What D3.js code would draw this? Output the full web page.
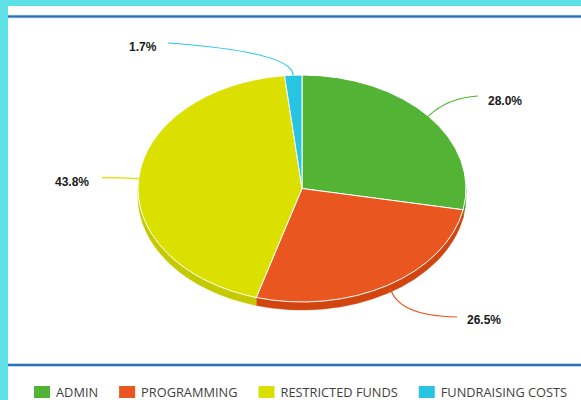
<!DOCTYPE html>
<html>
<head>
<meta charset="utf-8">
<script src="https://cdn.jsdelivr.net/npm/d3@7"></script>
<style>
  html, body { margin: 0; padding: 0; background: #5ee1e6; }
  svg { display: block; }
</style>
</head>
<body>
<svg id="chart" width="581" height="400"></svg>
<script>
// ---- data ----
const categories = ["ADMIN", "PROGRAMMING", "RESTRICTED FUNDS", "FUNDRAISING COSTS"];
const values = [28.0, 26.5, 43.8, 1.7];
const valueLabels = ["28.0%", "26.5%", "43.8%", "1.7%"];
const colors = ["#52b335", "#ea561f", "#dbe000", "#27c5e2"];
const sideColors = ["#449a2a", "#d24410", "#c5c900", "#1fa9c2"];

// ---- layout ----
const W = 581, H = 400;
const cx = 302, cy = 188.5, rx = 164, ry = 113.5, depth = 8;
const svg = d3.select("#chart");

// panel
svg.append("rect").attr("x", 8).attr("y", 6).attr("width", W - 8).attr("height", H - 6).attr("fill", "#ffffff");
[16.5, 365].forEach(y => {
  svg.append("line").attr("x1", 8).attr("x2", W).attr("y1", y).attr("y2", y)
    .attr("stroke", "#a9cbe8").attr("stroke-width", 3.5);
  svg.append("line").attr("x1", 8).attr("x2", W).attr("y1", y).attr("y2", y)
    .attr("stroke", "#2f70b3").attr("stroke-width", 1.8);
});

const data = categories.map((c, i) => ({ name: c, value: values[i], label: valueLabels[i], color: colors[i], side: sideColors[i] }));
const pie = d3.pie().value(d => d.value).sort(null).startAngle(0).endAngle(2 * Math.PI);
const arcs = pie(data);

const pt = (a, dy = 0, k = 1) => [cx + rx * k * Math.sin(a), cy - ry * k * Math.cos(a) + dy];

// side walls (front half: angles PI/2 .. 3PI/2)
const walls = svg.append("g");
arcs.forEach(d => {
  const a0 = Math.max(d.startAngle, Math.PI / 2);
  const a1 = Math.min(d.endAngle, 3 * Math.PI / 2);
  if (a1 <= a0) return;
  const p0 = pt(a0), p1 = pt(a1), q1 = pt(a1, depth), q0 = pt(a0, depth);
  const large = (a1 - a0) > Math.PI ? 1 : 0;
  const path = `M${p0}A${rx},${ry} 0 ${large} 1 ${p1}L${q1}A${rx},${ry} 0 ${large} 0 ${q0}Z`;
  walls.append("path").attr("d", path).attr("fill", d.data.side).attr("stroke", d.data.side).attr("stroke-width", 0.5);
});

// top faces
const arcGen = d3.arc().innerRadius(0).outerRadius(rx);
svg.append("g").attr("transform", `translate(${cx},${cy}) scale(1,${ry / rx})`)
  .selectAll("path").data(arcs).join("path")
  .attr("d", arcGen)
  .attr("fill", d => d.data.color)
  .attr("stroke", "#ffffff")
  .attr("stroke-width", 1)
  .attr("vector-effect", "non-scaling-stroke");

// leader lines and labels (positions of label ends are layout, not data)
const labelLayout = [
  { end: [478, 96], ctrl: [447, 98], text: [488, 105], k: 1.0 },
  { end: [457, 317], ctrl: [398, 316], text: [467, 324], k: 1.03 },
  { end: [102, 177.7], ctrl: [120, 178], text: [55, 185.5], k: 1.0 },
  { end: [168, 43], ctrl: [292, 52], text: [129, 51], k: 1.0 }
];
const lab = svg.append("g");
arcs.forEach((d, i) => {
  const mid = (d.startAngle + d.endAngle) / 2;
  const L = labelLayout[i];
  const s = pt(mid, 0, L.k);
  const p = d3.path();
  p.moveTo(s[0], s[1]);
  p.quadraticCurveTo(L.ctrl[0], L.ctrl[1], L.end[0], L.end[1]);
  lab.append("path").attr("d", p.toString()).attr("fill", "none")
    .attr("stroke", d.data.color).attr("stroke-width", 1.2);
  lab.append("text").attr("x", L.text[0]).attr("y", L.text[1])
    .attr("font-family", "Liberation Sans, Arial, sans-serif")
    .attr("font-weight", "bold").attr("font-size", 12).attr("fill", "#1a1a1a")
    .text(d.data.label);
});

// legend
const leg = svg.append("g");
let x = 34;
data.forEach(d => {
  leg.append("rect").attr("x", x).attr("y", 386).attr("width", 16).attr("height", 12).attr("fill", d.color);
  const t = leg.append("text").attr("x", x + 22).attr("y", 397)
    .attr("font-family", "Open Sans, sans-serif").attr("font-size", 12.8).attr("fill", "#3f3f3f")
    .text(d.name);
  x = x + 22 + t.node().getComputedTextLength() + 21;
});
</script>
</body>
</html>
